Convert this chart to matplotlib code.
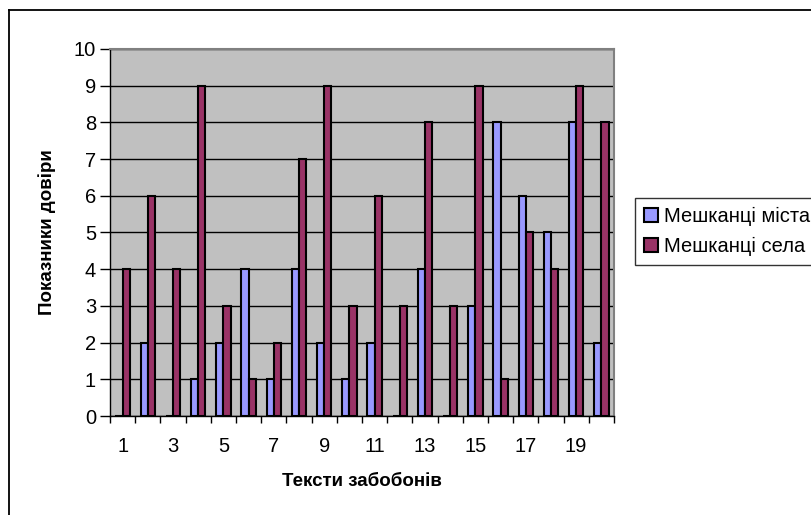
import numpy as np
import matplotlib
matplotlib.use("Agg")
import matplotlib.pyplot as plt
from matplotlib.lines import Line2D

plt.rcParams['font.family'] = ['Liberation Sans', 'DejaVu Sans']

# Trust scores per superstition text
texts = list(range(1, 21))
city = [0, 2, 0, 1, 2, 4, 1, 4, 2, 1, 2, 0, 4, 0, 3, 8, 6, 5, 8, 2]
village = [4, 6, 4, 9, 3, 1, 2, 7, 9, 3, 6, 3, 8, 3, 9, 1, 5, 4, 9, 8]
series_names = ["Мешканці міста", "Мешканці села"]
tick_labels = [str(t) if t % 2 == 1 else "" for t in texts]

fig = plt.figure(figsize=(8.11, 5.15), dpi=100)
ax = fig.add_axes([0.1356, 0.1922, 0.757 - 0.1356, 0.9049 - 0.1922])

x = np.arange(len(texts))
w = 0.2857
ax.bar(x - w / 2, city, width=w, color="#9999FF", edgecolor="black",
       linewidth=1.5, label=series_names[0], zorder=3)
ax.bar(x + w / 2, village, width=w, color="#993366", edgecolor="black",
       linewidth=1.5, label=series_names[1], zorder=3)

ax.set_facecolor("#C0C0C0")
ax.set_xlim(-0.5, len(texts) - 0.5)
ax.set_ylim(0, 10)
ax.set_yticks(range(0, 11))
ax.yaxis.grid(True, color="black", linewidth=1, zorder=1)
ax.set_axisbelow(True)

# tick marks on category boundaries, labels at category centres
ax.set_xticks(np.arange(-0.5, len(texts), 1.0))
ax.set_xticklabels([])
ax.set_xticks(x, minor=True)
ax.set_xticklabels(tick_labels, minor=True)
ax.tick_params(axis="x", which="minor", length=0, pad=15, labelsize=14.5)
ax.tick_params(axis="x", which="major", length=5, width=1, color="black")
ax.tick_params(axis="y", length=7, width=1, pad=3, labelsize=14.5)

for side in ("top", "right"):
    ax.spines[side].set_color("#808080")
    ax.spines[side].set_linewidth(1.5)
for side in ("left", "bottom"):
    ax.spines[side].set_color("black")
    ax.spines[side].set_linewidth(1)

ax.set_xlabel("Тексти забобонів", fontsize=13.5, fontweight="bold", labelpad=12)
ax.set_ylabel("Показники довіри", fontsize=13.5, fontweight="bold", labelpad=13)

leg = fig.legend(loc="upper left", bbox_to_anchor=(635 / 811, 1 - 198 / 515),
                 fontsize=14.5, frameon=True, fancybox=False, edgecolor="black",
                 handlelength=0.7, handleheight=0.7, handletextpad=0.3,
                 borderpad=0.45, labelspacing=0.55, borderaxespad=0)
leg.get_frame().set_linewidth(1)

# chart area border (top and left edges)
fig.add_artist(Line2D([9 / 811, 1.0], [1 - 10 / 515, 1 - 10 / 515],
                      transform=fig.transFigure, color="black", linewidth=1.3))
fig.add_artist(Line2D([9 / 811, 9 / 811], [0.0, 1 - 10 / 515],
                      transform=fig.transFigure, color="black", linewidth=1.3))

fig.savefig("out.png", dpi=100, facecolor="white")
